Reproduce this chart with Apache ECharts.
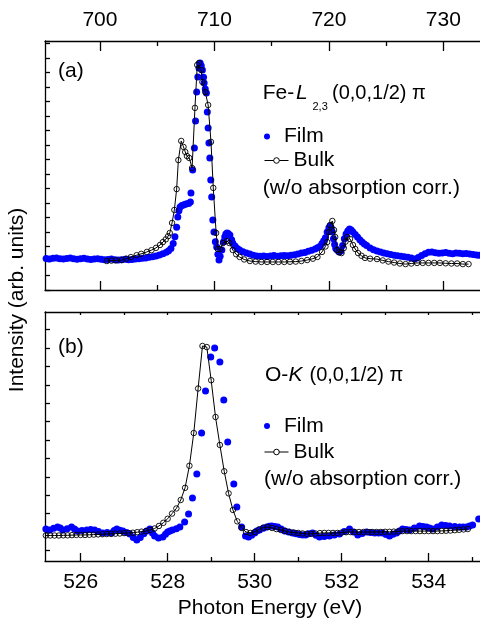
<!DOCTYPE html>
<html>
<head>
<meta charset="utf-8">
<script src="https://cdn.jsdelivr.net/npm/echarts@6/dist/echarts.min.js"></script>
<style>html,body{margin:0;padding:0;background:#fff;}#c{width:480px;height:621px;}</style>
</head>
<body>
<div id="c"></div>
<script>
// ---- Tick labels / tick positions ----
const feMajorTicks = [700, 710, 720, 730];
const feMinorTicks = [705, 715, 725];
const oMajorTicks = [526, 528, 530, 532, 534];
const oMinorTicks = [527, 529, 531, 533, 535];
const oTopTicks = [526, 527, 528, 529, 530, 531, 532, 533, 534, 535];
const oYTicks = [-0.1, 0, 0.1, 0.2, 0.3, 0.4, 0.5, 0.6, 0.7, 0.8, 0.9, 1.0, 1.1];

// ---- (a) Fe-L2,3 : Film [energy, intensity] ----
const feFilm = [
[695.3,0.013],[695.6,0.010],[695.9,0.014],[696.2,0.016],[696.5,0.012],[696.8,0.010],[697.1,0.013],[697.4,0.015],
[697.7,0.012],[698.0,0.009],[698.3,0.012],[698.6,0.014],[698.9,0.011],[699.2,0.008],[699.5,0.010],[699.8,0.012],
[700.1,0.009],[700.4,0.006],[700.7,0.008],[701.0,0.010],[701.3,0.007],[701.6,0.005],[701.9,0.007],[702.2,0.009],
[702.5,0.006],[702.8,0.008],[703.1,0.010],[703.4,0.012],[703.7,0.014],[704.0,0.016],[704.3,0.019],[704.6,0.022],
[704.9,0.026],[705.2,0.031],[705.5,0.037],[705.8,0.045],[706.0,0.053],[706.2,0.065],[706.4,0.090],[706.55,0.125],
[706.7,0.175],[706.8,0.228],[706.9,0.260],[707.0,0.279],[707.15,0.287],[707.3,0.290],[707.45,0.293],[707.6,0.296],
[707.75,0.298],[707.9,0.305],[707.95,0.352],[708.1,0.471],[708.25,0.585],[708.35,0.724],[708.45,0.874],[708.55,0.952],
[708.65,0.998],[708.75,1.024],[708.85,1.010],[708.95,0.988],[709.05,0.950],[709.1,0.921],[709.2,0.890],[709.3,0.869],
[709.38,0.771],[709.45,0.688],[709.52,0.610],[709.6,0.533],[709.68,0.419],[709.76,0.331],[709.86,0.212],[709.96,0.150],
[710.08,0.100],[710.2,0.072],[710.3,0.035],[710.4,0.005],[710.5,0.025],[710.65,0.057],[710.8,0.100],[710.9,0.124],
[711.0,0.140],[711.1,0.145],[711.2,0.142],[711.35,0.135],[711.5,0.110],[711.6,0.093],[711.8,0.078],[712.0,0.065],
[712.2,0.057],[712.5,0.048],[712.8,0.041],[713.1,0.036],[713.4,0.030],[713.7,0.026],[714.0,0.024],[714.3,0.026],
[714.6,0.023],[714.9,0.026],[715.2,0.028],[715.5,0.025],[715.8,0.027],[716.1,0.029],[716.4,0.027],[716.7,0.030],
[717.0,0.032],[717.3,0.036],[717.6,0.041],[717.9,0.044],[718.2,0.050],[718.5,0.055],[718.8,0.062],[719.0,0.068],
[719.2,0.075],[719.4,0.090],[719.55,0.105],[719.7,0.120],[719.85,0.150],[720.0,0.172],[720.1,0.181],[720.2,0.172],
[720.3,0.150],[720.4,0.115],[720.5,0.085],[720.6,0.065],[720.75,0.055],[720.9,0.047],[721.05,0.052],[721.2,0.080],
[721.35,0.115],[721.5,0.140],[721.65,0.155],[721.8,0.166],[721.95,0.160],[722.1,0.150],[722.3,0.137],[722.5,0.124],
[722.7,0.110],[722.9,0.098],[723.1,0.088],[723.3,0.080],[723.6,0.067],[723.9,0.058],[724.2,0.052],[724.5,0.047],
[724.8,0.042],[725.1,0.037],[725.4,0.033],[725.7,0.030],[726.0,0.027],[726.3,0.025],[726.6,0.022],[726.9,0.019],
[727.2,0.015],[727.5,0.010],[727.8,0.018],[728.1,0.028],[728.4,0.038],[728.7,0.045],[729.0,0.047],[729.3,0.043],
[729.6,0.040],[729.9,0.042],[730.2,0.044],[730.5,0.040],[730.8,0.038],[731.1,0.042],[731.4,0.040],[731.7,0.037],
[732.0,0.039],[732.3,0.036],[732.6,0.034],[732.9,0.031],[733.15,0.030]
];

// ---- (a) Fe-L2,3 : Bulk ----
const feBulk = [
[700.6,0.000],[701.0,0.002],[701.4,0.003],[701.9,0.005],[702.3,0.012],[702.7,0.020],[703.2,0.030],[703.6,0.037],
[704.1,0.047],[704.5,0.056],[704.9,0.068],[705.25,0.083],[705.5,0.098],[705.75,0.112],[705.95,0.128],[706.1,0.145],
[706.3,0.197],[706.5,0.264],[706.7,0.372],[706.85,0.522],[707.1,0.621],[707.3,0.590],[707.45,0.564],[707.6,0.543],
[707.8,0.533],[708.05,0.481],[708.3,0.792],[708.5,1.014],[708.65,1.024],[708.85,0.988],[708.95,0.926],[709.2,0.874],
[709.45,0.807],[709.7,0.616],[709.9,0.378],[710.15,0.145],[710.3,0.062],[710.5,0.062],[710.75,0.093],[711.1,0.103],
[711.3,0.093],[711.6,0.057],[711.9,0.035],[712.2,0.021],[712.6,0.008],[713.1,0.000],[713.6,-0.003],[714.1,-0.005],
[714.6,-0.005],[715.1,-0.005],[715.6,-0.005],[716.1,-0.005],[716.6,-0.004],[717.1,-0.003],[717.6,0.000],[718.1,0.005],
[718.6,0.012],[719.0,0.021],[719.4,0.047],[719.7,0.075],[719.85,0.098],[720.0,0.150],[720.1,0.186],[720.3,0.207],
[720.45,0.160],[720.55,0.124],[720.7,0.057],[720.9,0.045],[721.1,0.041],[721.3,0.067],[721.45,0.100],[721.6,0.124],
[721.85,0.114],[722.1,0.083],[722.3,0.062],[722.55,0.041],[722.85,0.027],[723.15,0.016],[723.6,0.012],[724.2,0.010],
[724.7,0.003],[725.2,-0.003],[725.7,-0.008],[726.2,-0.013],[726.7,-0.016],[727.2,-0.013],[727.7,-0.010],[728.2,-0.010],
[728.7,-0.010],[729.2,-0.010],[729.7,-0.010],[730.2,-0.012],[730.7,-0.013],[731.2,-0.013],[731.7,-0.016],[732.2,-0.016]
];

// ---- (b) O-K : Film ----
const oFilm = [
[525.2,0.016],[525.29,0.011],[525.38,0.020],[525.47,0.027],[525.53,0.022],[525.59,0.011],[525.69,0.018],[525.79,0.027],
[525.86,0.016],[525.93,0.005],[526.03,0.008],[526.14,0.011],[526.23,0.014],[526.32,0.011],[526.41,0.003],[526.51,-0.005],
[526.61,-0.003],[526.71,-0.005],[526.77,0.008],[526.83,0.016],[526.9,0.010],[526.97,0.005],[527.05,-0.003],[527.13,-0.011],
[527.21,-0.030],[527.29,-0.043],[527.37,-0.030],[527.45,-0.010],[527.52,0.005],[527.59,0.016],[527.65,-0.005],[527.70,-0.022],
[527.79,-0.033],[527.89,-0.027],[527.95,-0.012],[528.0,0.000],[528.05,0.005],[528.11,0.011],[528.2,0.018],[528.28,0.027],
[528.39,0.054],[528.48,0.098],[528.57,0.185],[528.67,0.315],[528.78,0.538],[528.87,0.766],[528.99,0.951],[529.08,1.000],
[529.2,0.924],[529.29,0.717],[529.38,0.489],[529.52,0.261],[529.59,0.136],[529.7,0.027],[529.79,-0.022],[529.86,-0.027],
[529.93,-0.018],[530.0,-0.005],[530.05,0.005],[530.11,0.011],[530.2,0.020],[530.28,0.027],[530.34,0.031],[530.39,0.033],
[530.46,0.030],[530.53,0.027],[530.61,0.016],[530.69,0.005],[530.78,0.000],[530.87,-0.005],[530.95,-0.010],[531.03,-0.013],
[531.1,-0.016],[531.17,-0.016],[531.24,-0.010],[531.33,-0.005],[531.41,-0.018],[531.49,-0.027],[531.6,-0.024],[531.72,-0.022],
[531.83,-0.016],[531.95,-0.011],[532.06,0.003],[532.18,0.016],[532.27,0.000],[532.37,-0.016],[532.47,-0.008],[532.57,0.000],
[532.66,-0.003],[532.76,-0.005],[532.85,-0.005],[532.94,-0.005],[533.02,-0.014],[533.1,-0.022],[533.18,-0.012],[533.26,-0.005],
[533.33,0.005],[533.4,0.016],[533.48,0.013],[533.56,0.011],[533.67,0.022],[533.79,0.033],[533.87,0.030],[533.95,0.027],
[534.02,0.022],[534.09,0.016],[534.2,0.027],[534.3,0.038],[534.39,0.035],[534.48,0.033],[534.6,0.030],[534.71,0.027],
[534.79,0.027],[534.87,0.027],[534.94,0.032],[535.01,0.038],[535.15,0.071]
];

// ---- (b) O-K : Bulk ----
const oBulk = [
[525.2,-0.019],[525.3,-0.019],[525.4,-0.019],[525.5,-0.019],[525.6,-0.018],[525.7,-0.018],[525.8,-0.017],[525.9,-0.016],
[526.0,-0.016],[526.1,-0.016],[526.2,-0.015],[526.3,-0.014],[526.4,-0.013],[526.5,-0.012],[526.6,-0.011],[526.7,-0.010],
[526.8,-0.009],[526.9,-0.008],[527.0,-0.006],[527.1,-0.005],[527.2,-0.004],[527.3,-0.001],[527.4,0.002],[527.5,0.005],
[527.6,0.011],[527.7,0.019],[527.8,0.033],[527.9,0.050],[528.0,0.072],[528.1,0.100],[528.2,0.128],[528.3,0.174],
[528.4,0.240],[528.5,0.360],[528.6,0.538],[528.7,0.780],[528.8,1.011],[528.9,1.005],[529.0,0.825],[529.1,0.625],
[529.2,0.473],[529.3,0.330],[529.4,0.210],[529.5,0.120],[529.6,0.058],[529.7,0.022],[529.8,0.000],[529.9,-0.005],
[530.0,0.000],[530.1,0.014],[530.2,0.024],[530.3,0.027],[530.4,0.022],[530.5,0.016],[530.6,0.011],[530.7,0.006],
[530.8,0.000],[530.9,-0.003],[531.0,-0.005],[531.1,-0.008],[531.2,-0.010],[531.3,-0.010],[531.4,-0.008],[531.5,-0.006],
[531.6,-0.005],[531.7,-0.005],[531.8,-0.005],[531.9,-0.005],[532.0,-0.003],[532.1,-0.001],[532.2,0.000],[532.3,0.000],
[532.4,0.000],[532.5,0.000],[532.6,0.000],[532.7,0.000],[532.8,0.000],[532.9,0.000],[533.0,0.001],[533.1,0.001],
[533.2,0.002],[533.3,0.003],[533.4,0.005],[533.5,0.005],[533.6,0.005],[533.7,0.005],[533.8,0.005],[533.9,0.005],
[534.0,0.005],[534.1,0.005],[534.2,0.005],[534.3,0.006],[534.4,0.007],[534.5,0.008],[534.6,0.010],[534.7,0.012],
[534.8,0.014],[534.9,0.016]
];

const FONT = 'Liberation Sans, Arial, sans-serif';
const BLUE = '#0000ff';
const feX = [695.2, 733.2];
const oX = [525.18, 535.18];

function xAxis(grid, pos, range, ticks, len, showLine, showLabels, margin) {
  return {
    type: 'value', gridIndex: grid, position: pos, min: range[0], max: range[1],
    axisLine: { show: showLine, onZero: false, lineStyle: { color: '#000', width: 1.3 } },
    axisTick: { show: true, inside: true, length: len, customValues: ticks, lineStyle: { color: '#000', width: 1.3 } },
    axisLabel: { show: showLabels, customValues: ticks, fontSize: 21, color: '#000', fontFamily: FONT, margin: margin || 8 },
    splitLine: { show: false }, minorTick: { show: false }
  };
}

const legendBase = {
  orient: 'vertical', padding: 0, itemWidth: 24, itemHeight: 6, selectedMode: false,
  textStyle: { fontSize: 21, lineHeight: 22, color: '#000', fontFamily: FONT }
};
const bulkLegendStyle = {
  itemHeight: 7,
  itemStyle: { color: '#fff', borderColor: '#000', borderWidth: 1 },
  lineStyle: { color: '#000', width: 1 }
};

const option = {
  animation: false,
  textStyle: { fontFamily: FONT },
  grid: [
    { left: 45, top: 41, width: 435, height: 249, containLabel: false },
    { left: 45, top: 312, width: 435, height: 249, containLabel: false }
  ],
  xAxis: [
    xAxis(0, 'top', feX, feMajorTicks, 10, true, true, 10),
    xAxis(0, 'top', feX, feMinorTicks, 5, false, false),
    xAxis(0, 'bottom', feX, feMajorTicks, 9, true, false),
    xAxis(0, 'bottom', feX, feMinorTicks, 5, false, false),
    xAxis(1, 'bottom', oX, oMajorTicks, 8, true, true, 11),
    xAxis(1, 'bottom', oX, oMinorTicks, 4, false, false),
    xAxis(1, 'top', oX, oTopTicks, 3, true, false)
  ],
  yAxis: [
    {
      type: 'value', gridIndex: 0, position: 'left', min: -0.15, max: 1.138, interval: 0.075,
      axisLine: { show: true, onZero: false, lineStyle: { color: '#000', width: 1.3 } },
      axisTick: { show: true, inside: true, length: 5, lineStyle: { color: '#000', width: 1.3 } },
      axisLabel: { show: false }, splitLine: { show: false }
    },
    {
      type: 'value', gridIndex: 1, position: 'left', min: -0.1576, max: 1.1957,
      axisLine: { show: true, onZero: false, lineStyle: { color: '#000', width: 1.3 } },
      axisTick: { show: true, inside: true, length: 5, customValues: oYTicks, lineStyle: { color: '#000', width: 1.3 } },
      axisLabel: { show: false }, splitLine: { show: false }
    }
  ],
  legend: [
    Object.assign({}, legendBase, { data: ['Film'], left: 264, top: 125.5 }),
    Object.assign({}, legendBase, bulkLegendStyle, { data: ['Bulk'], left: 264, top: 149.5 }),
    Object.assign({}, legendBase, { data: ['Film'], left: 264, top: 415 }),
    Object.assign({}, legendBase, bulkLegendStyle, { data: ['Bulk'], left: 264, top: 441 })
  ],
  series: [
    { name: 'Film', type: 'scatter', xAxisIndex: 0, yAxisIndex: 0, data: feFilm, symbol: 'circle', symbolSize: 7,
      itemStyle: { color: BLUE, opacity: 1 } },
    { name: 'Bulk', type: 'line', xAxisIndex: 0, yAxisIndex: 0, data: feBulk, symbol: 'circle', symbolSize: 5.5,
      showAllSymbol: true, lineStyle: { color: '#000', width: 1 },
      itemStyle: { color: 'rgba(255,255,255,0)', borderColor: '#000', borderWidth: 0.9 } },
    { name: 'Film', type: 'scatter', xAxisIndex: 4, yAxisIndex: 1, data: oFilm, symbol: 'circle', symbolSize: 7,
      itemStyle: { color: BLUE, opacity: 1 } },
    { name: 'Bulk', type: 'line', xAxisIndex: 4, yAxisIndex: 1, data: oBulk, symbol: 'circle', symbolSize: 5.5,
      showAllSymbol: true, lineStyle: { color: '#000', width: 1 },
      itemStyle: { color: 'rgba(255,255,255,0)', borderColor: '#000', borderWidth: 0.9 } }
  ],
  graphic: [
    { type: 'text', x: 17, y: 300, rotation: Math.PI / 2,
      style: { text: 'Intensity (arb. units)', fontSize: 21, fontFamily: FONT, fill: '#000', align: 'center', verticalAlign: 'middle' } },
    { type: 'text', x: 270, y: 608,
      style: { text: 'Photon Energy (eV)', fontSize: 21, fontFamily: FONT, fill: '#000', align: 'center', verticalAlign: 'middle' } },
    { type: 'text', x: 58, y: 71,
      style: { text: '(a)', fontSize: 21, fontFamily: FONT, fill: '#000', align: 'left', verticalAlign: 'middle' } },
    { type: 'text', x: 58, y: 347,
      style: { text: '(b)', fontSize: 21, fontFamily: FONT, fill: '#000', align: 'left', verticalAlign: 'middle' } },
    // Fe-L2,3 (0,0,1/2) pi
    { type: 'text', x: 262.7, y: 93,
      style: { text: 'Fe-', fontSize: 21, fontFamily: FONT, fill: '#000', align: 'left', verticalAlign: 'middle' } },
    { type: 'text', x: 296, y: 93,
      style: { text: 'L', fontSize: 21, fontStyle: 'italic', fontFamily: FONT, fill: '#000', align: 'left', verticalAlign: 'middle' } },
    { type: 'text', x: 312.5, y: 106.5,
      style: { text: '2,3', fontSize: 11, fontFamily: FONT, fill: '#000', align: 'left', verticalAlign: 'middle' } },
    { type: 'text', x: 332, y: 93,
      style: { text: '(0,0,1/2) \u03c0', fontSize: 20, fontFamily: FONT, fill: '#000', align: 'left', verticalAlign: 'middle' } },
    { type: 'text', x: 262.7, y: 188,
      style: { text: '(w/o absorption corr.)', fontSize: 21, fontFamily: FONT, fill: '#000', align: 'left', verticalAlign: 'middle' } },
    // O-K (0,0,1/2) pi
    { type: 'text', x: 265, y: 375.5,
      style: { text: 'O-', fontSize: 21, fontFamily: FONT, fill: '#000', align: 'left', verticalAlign: 'middle' } },
    { type: 'text', x: 288.5, y: 375.5,
      style: { text: 'K', fontSize: 21, fontStyle: 'italic', fontFamily: FONT, fill: '#000', align: 'left', verticalAlign: 'middle' } },
    { type: 'text', x: 309.5, y: 375.5,
      style: { text: '(0,0,1/2) \u03c0', fontSize: 20, fontFamily: FONT, fill: '#000', align: 'left', verticalAlign: 'middle' } },
    { type: 'text', x: 264, y: 479.5,
      style: { text: '(w/o absorption corr.)', fontSize: 21, fontFamily: FONT, fill: '#000', align: 'left', verticalAlign: 'middle' } }
  ]
};

const chart = echarts.init(document.getElementById('c'), null, { renderer: 'canvas' });
chart.setOption(option);
</script>
</body>
</html>
